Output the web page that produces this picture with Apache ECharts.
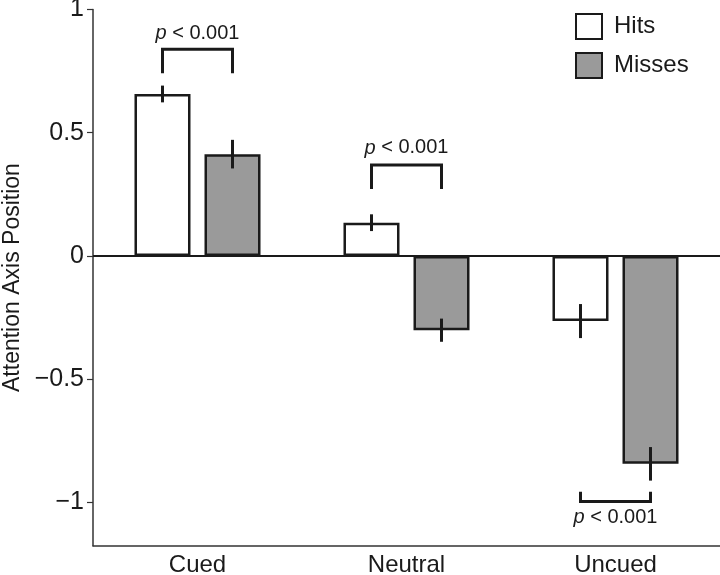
<!DOCTYPE html>
<html>
<head>
<meta charset="utf-8">
<script src="https://cdn.jsdelivr.net/npm/echarts@6/dist/echarts.min.js"></script>
<style>html,body{margin:0;padding:0;background:#fff}#c{width:720px;height:575px}</style>
</head>
<body>
<div id="c"></div>
<script>
// ---- data ----
var categories = ['Cued', 'Neutral', 'Uncued'];
var seriesNames = ['Hits', 'Misses'];
var hits = [0.657, 0.135, -0.264];
var misses = [0.413, -0.301, -0.843];
var hitsErr = [0.034, 0.034, 0.069];
var missesErr = [0.058, 0.047, 0.068];
var yTicks = [-1, -0.5, 0, 0.5, 1];
// significance brackets (value units)
var bracketLevel = [0.838, 0.369, -0.996];
var bracketLegEnd = [0.741, 0.272, -0.956];
var bracketTextLevel = [0.904, 0.438, -1.062];
var bracketText = ['p < 0.001', 'p < 0.001', 'p < 0.001'];

var FONT = '"Liberation Sans", Arial, sans-serif';
var INK = '#1a1a1a';

var chart = echarts.init(document.getElementById('c'));

function errData(vals, errs) {
  return vals.map(function (v, i) { return [i, v, errs[i]]; });
}
function makeErr(sign) {
  return function (params, api) {
    var c = api.value(0), v = api.value(1), e = api.value(2);
    var band = api.size([1, 0])[0];
    var off = sign * band * 35 / 209;
    var p1 = api.coord([c, v + e]);
    var p2 = api.coord([c, v - e]);
    return {
      type: 'line',
      shape: { x1: p1[0] + off, y1: p1[1], x2: p2[0] + off, y2: p2[1] },
      style: { stroke: INK, lineWidth: 3 }
    };
  };
}
var bracketData = categories.map(function (c, i) {
  return [i, bracketLevel[i], bracketLegEnd[i], bracketTextLevel[i]];
});

var option = {
  backgroundColor: '#fff',
  animation: false,
  grid: { left: 93, right: 0, top: 9.4, bottom: 29.3, containLabel: false, outerBoundsMode: 'none' },
  legend: {
    data: seriesNames,
    orient: 'vertical',
    left: 570, top: 8,
    icon: 'rect',
    itemWidth: 26, itemHeight: 25, itemGap: 12,
    itemStyle: { borderColor: INK, borderWidth: 2 },
    textStyle: { fontFamily: FONT, fontSize: 24, color: INK, padding: [0, 0, 0, 7] }
  },
  xAxis: {
    type: 'category',
    data: categories,
    axisLine: { onZero: false, lineStyle: { color: '#333', width: 1.5 } },
    axisTick: { show: false },
    axisLabel: { fontFamily: FONT, fontSize: 24, color: INK, margin: 8 }
  },
  yAxis: {
    type: 'value',
    min: -1.175, max: 1,
    name: 'Attention Axis Position',
    nameLocation: 'middle',
    nameGap: 69,
    nameTextStyle: { fontFamily: FONT, fontSize: 23, color: INK },
    splitLine: { show: false },
    axisLine: { show: true, lineStyle: { color: '#333', width: 1.5 } },
    axisTick: { show: true, length: 6, customValues: yTicks, lineStyle: { color: '#333', width: 1.2 } },
    axisLabel: {
      customValues: yTicks,
      fontFamily: FONT, fontSize: 25, color: INK, margin: 9,
      formatter: function (v) { return String(v).replace('-', '\u2212'); }
    }
  },
  series: [
    {
      name: 'Hits', type: 'bar', data: hits,
      barWidth: '26.8%', barGap: '25%',
      itemStyle: { color: '#ffffff', borderColor: INK, borderWidth: 2.5 },
      markLine: {
        silent: true, symbol: 'none', label: { show: false },
        lineStyle: { color: INK, width: 2, type: 'solid' },
        data: [{ yAxis: 0 }]
      }
    },
    {
      name: 'Misses', type: 'bar', data: misses,
      barWidth: '26.8%', barGap: '25%',
      itemStyle: { color: '#9a9a9a', borderColor: INK, borderWidth: 2.5 }
    },
    { type: 'custom', data: errData(hits, hitsErr), renderItem: makeErr(-1), z: 5 },
    { type: 'custom', data: errData(misses, missesErr), renderItem: makeErr(1), z: 5 },
    {
      type: 'custom', data: bracketData, z: 6,
      renderItem: function (params, api) {
        var c = api.value(0), lvl = api.value(1), leg = api.value(2), tl = api.value(3);
        var band = api.size([1, 0])[0];
        var off = band * 35 / 209;
        var a = api.coord([c, lvl]);
        var b = api.coord([c, leg]);
        var t = api.coord([c, tl]);
        var txt = bracketText[params.dataIndex].replace(/^p/, '{i|p}');
        return {
          type: 'group',
          children: [
            { type: 'polyline',
              shape: { points: [[a[0] - off, b[1]], [a[0] - off, a[1]], [a[0] + off, a[1]], [a[0] + off, b[1]]] },
              style: { stroke: INK, lineWidth: 3, fill: null } },
            { type: 'text',
              x: a[0], y: t[1],
              style: {
                text: txt, align: 'center', verticalAlign: 'middle',
                fontFamily: FONT, fontSize: 20, fill: INK,
                rich: { i: { fontStyle: 'italic', fontFamily: FONT, fontSize: 20, fill: INK } }
              } }
          ]
        };
      }
    }
  ]
};
chart.setOption(option);
</script>
</body>
</html>
